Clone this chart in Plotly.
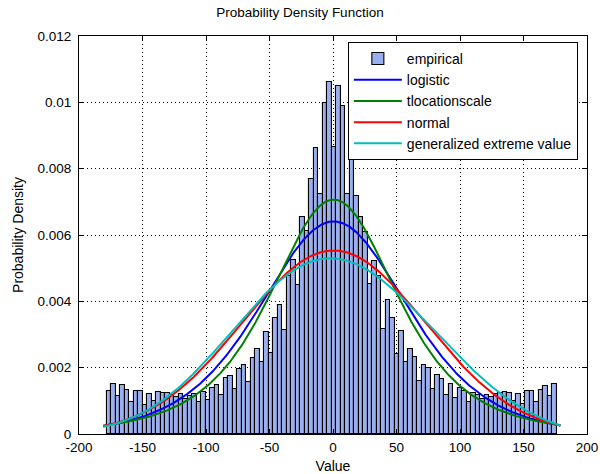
import numpy as np
import plotly.graph_objects as go

# ---- data ----
# histogram: 100 bins spanning the data range
bin_lo, bin_hi, n_bins = -178.2, 176.1, 100
# empirical density, units of 1e-3, left half (bins 0..49)
dens_left = [1.29, 1.52, 1.15, 1.47, 1.34, 0.98, 1.29, 1.29, 0.88, 1.22,
             1.00, 1.26, 1.25, 1.23, 1.18, 1.12, 1.20, 1.05, 1.15, 1.20,
             0.98, 1.28, 1.04, 1.38, 1.49, 1.18, 1.68, 1.76, 1.35, 1.95,
             2.08, 1.58, 2.30, 2.56, 2.18, 3.09, 2.43, 3.49, 3.90, 3.15,
             4.75, 5.24, 4.49, 6.53, 6.13, 7.68, 8.61, 7.23, 9.97, 10.62]
# right half (bins 50..99)
dens_right = [8.64, 10.50, 9.90, 7.23, 8.48, 7.18, 6.53, 6.10, 4.52, 5.22,
              4.75, 3.17, 4.05, 3.50, 2.42, 3.10, 2.18, 2.57, 2.32, 1.59,
              2.09, 2.00, 1.35, 1.79, 1.66, 1.18, 1.50, 1.08, 1.38, 1.30,
              0.96, 1.23, 1.18, 1.05, 1.18, 1.12, 1.20, 1.24, 1.26, 1.24,
              1.00, 1.22, 0.90, 1.29, 1.29, 0.98, 1.34, 1.46, 1.15, 1.50]

# fitted distribution parameters (estimated from the curves)
logistic_mu, logistic_s = 0.5, 39.0
t_mu, t_sigma, t_nu = 0.5, 52.6, 3.5
normal_mu, normal_sigma = 0.5, 72.1
gev_k, gev_sigma, gev_mu = -0.28, 72.5, -24.8
curve_lo, curve_hi = -181.0, 179.0

x_ticks = [-200, -150, -100, -50, 0, 50, 100, 150, 200]
y_ticks = [0, 0.002, 0.004, 0.006, 0.008, 0.01, 0.012]
y_tick_text = ["0", "0.002", "0.004", "0.006", "0.008", "0.01", "0.012"]

# ---- build ----
from math import gamma, pi, sqrt

edges = np.linspace(bin_lo, bin_hi, n_bins + 1)
centers = (edges[:-1] + edges[1:]) / 2
width = edges[1] - edges[0]
dens = np.array(dens_left + dens_right) * 1e-3

xc = np.linspace(curve_lo, curve_hi, 600)

z = np.exp(-(xc - logistic_mu) / logistic_s)
pdf_logistic = z / (logistic_s * (1 + z) ** 2)

c = gamma((t_nu + 1) / 2) / (gamma(t_nu / 2) * sqrt(t_nu * pi) * t_sigma)
pdf_t = c * (1 + ((xc - t_mu) / t_sigma) ** 2 / t_nu) ** (-(t_nu + 1) / 2)

pdf_norm = np.exp(-0.5 * ((xc - normal_mu) / normal_sigma) ** 2) / (normal_sigma * sqrt(2 * pi))

yy = (xc - gev_mu) / gev_sigma
tt = (1 + gev_k * yy) ** (-1 / gev_k)
pdf_gev = (1 / gev_sigma) * tt ** (gev_k + 1) * np.exp(-tt)

fig = go.Figure()
fig.add_trace(go.Bar(x=centers, y=dens, width=width, name="empirical",
                     marker=dict(color="rgb(155,175,238)",
                                 line=dict(color="black", width=1.1))))
line_specs = [("logistic", pdf_logistic, "rgb(0,0,255)"),
              ("tlocationscale", pdf_t, "rgb(0,128,0)"),
              ("normal", pdf_norm, "rgb(255,0,0)"),
              ("generalized extreme value", pdf_gev, "rgb(0,191,191)")]
for name, yv, col in line_specs:
    fig.add_trace(go.Scatter(x=xc, y=yv, mode="lines", name=name,
                             line=dict(color=col, width=2)))

font = "Liberation Sans, Arial, sans-serif"
axis_common = dict(showline=True, linecolor="black", linewidth=1, mirror="allticks",
                   ticks="inside", ticklen=5, tickcolor="black", automargin=False,
                   showgrid=True, gridcolor="black", griddash="1px,3px", gridwidth=1,
                   zeroline=False, tickfont=dict(size=13.5, color="black", family=font))
fig.update_xaxes(range=[-200, 200], tickvals=x_ticks,
                 ticktext=[str(v) for v in x_ticks], ticklabelstandoff=1,
                 title=dict(text="Value", font=dict(size=14, color="black", family=font), standoff=7),
                 **axis_common)
fig.update_yaxes(range=[0, 0.012], tickvals=y_ticks, ticktext=y_tick_text,
                 ticklabelstandoff=4,
                 title=dict(text="Probability Density", font=dict(size=14, color="black", family=font), standoff=10),
                 **axis_common)
fig.update_layout(
    width=600, height=474,
    margin=dict(l=79, r=13, t=36, b=40, autoexpand=False),
    paper_bgcolor="white", plot_bgcolor="white",
    bargap=0,
    title=dict(text="Probability Density Function", x=0.5, xanchor="center",
               y=0.975, yanchor="middle",
               font=dict(size=13.5, color="black", family=font)),
    legend=dict(x=0.982, xanchor="right", y=0.985, yanchor="top",
                bgcolor="white", bordercolor="black", borderwidth=1,
                font=dict(size=14, color="black", family=font),
                itemwidth=48, tracegroupgap=0),
    showlegend=True,
)
fig.write_html("out.html", config={"displayModeBar": False},
               post_script="document.body.style.margin='0px';")
